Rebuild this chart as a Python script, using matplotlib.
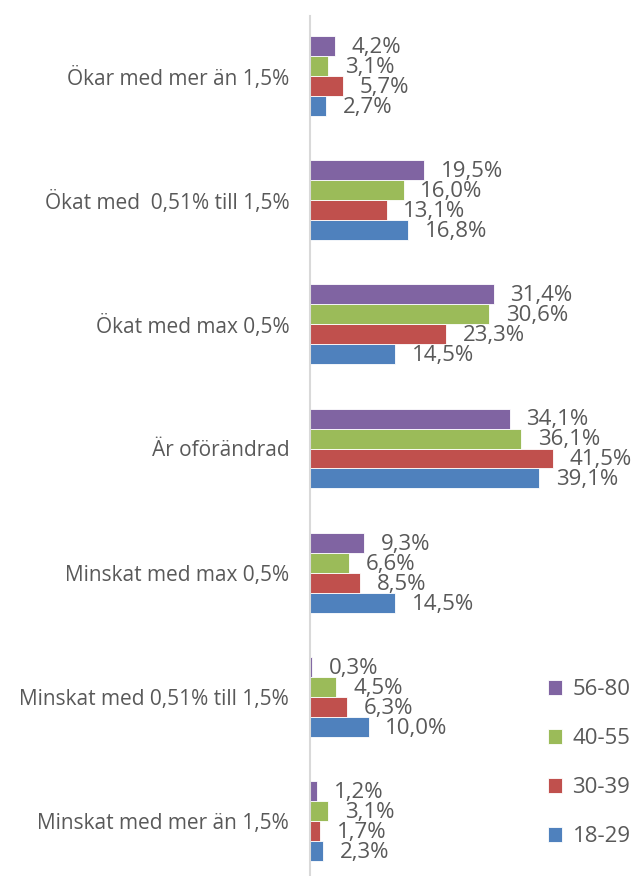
import numpy as np
import matplotlib.pyplot as plt

plt.rcParams['font.family'] = ['Open Sans', 'DejaVu Sans']

# Data
categories = ['Ökar med mer än 1,5%', 'Ökat med  0,51% till 1,5%', 'Ökat med max 0,5%',
              'Är oförändrad', 'Minskat med max 0,5%', 'Minskat med 0,51% till 1,5%',
              'Minskat med mer än 1,5%']
series_names = ['18-29', '30-39', '40-55', '56-80']
v_18_29 = [2.7, 16.8, 14.5, 39.1, 14.5, 10.0, 2.3]
v_30_39 = [5.7, 13.1, 23.3, 41.5, 8.5, 6.3, 1.7]
v_40_55 = [3.1, 16.0, 30.6, 36.1, 6.6, 4.5, 3.1]
v_56_80 = [4.2, 19.5, 31.4, 34.1, 9.3, 0.3, 1.2]
colors = ['#4F81BD', '#C0504D', '#9BBB59', '#8064A2']

values = [v_18_29, v_30_39, v_40_55, v_56_80]
text_col = '#595959'

fig = plt.figure(figsize=(6.38, 8.76), dpi=100)
ax = fig.add_axes([310 / 638, -7 / 876, 263.5 / 638, 869 / 876])

y = np.arange(len(categories))
h = 0.161
offsets = [1.5 * h, 0.5 * h, -0.5 * h, -1.5 * h]

handles = []
for vals, off, col, name in zip(values, offsets, colors, series_names):
    b = ax.barh(y + off, vals, height=h, color=col, label=name,
                edgecolor='white', linewidth=0.6)
    handles.append(b)
    for yi, v in zip(y, vals):
        ax.annotate(f'{v:.1f}%'.replace('.', ','), xy=(v, yi + off),
                    xytext=(12, -1), textcoords='offset points',
                    ha='left', va='center', fontsize=16, color=text_col,
                    annotation_clip=False)

ax.set_xlim(0, 45)
ax.set_ylim(len(categories) - 0.5, -0.5)
ax.set_yticks(y)
ax.set_yticklabels(categories, fontsize=15, color=text_col)
ax.tick_params(axis='y', length=0, pad=15)
ax.set_xticks([])
for s in ['top', 'right', 'bottom']:
    ax.spines[s].set_visible(False)
ax.spines['left'].set_color('#D9D9D9')
ax.spines['left'].set_linewidth(1.5)
ax.spines['left'].set_bounds(6.45, -0.48)

leg = fig.legend(handles[::-1], series_names[::-1], loc='upper left',
                 bbox_to_anchor=(528 / 638, 1 - 659 / 876), frameon=False,
                 fontsize=16, labelcolor=text_col, handlelength=0.65,
                 handleheight=0.65, handletextpad=0.45, labelspacing=1.26)

fig.savefig('out.png', dpi=100)
